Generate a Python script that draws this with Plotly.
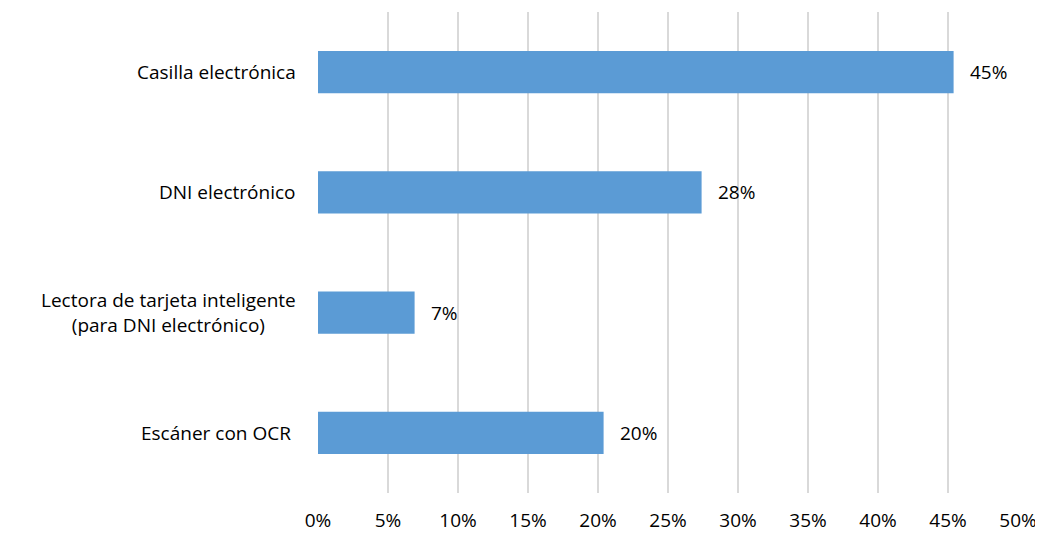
import plotly.graph_objects as go

categories = ["Casilla electrónica", "DNI electrónico",
              "Lectora de tarjeta inteligente<br>(para DNI electrónico)", "Escáner con OCR "]
values = [45.4, 27.4, 6.9, 20.4]
value_labels = ["45%", "28%", "7%", "20%"]
tick_vals = [0, 5, 10, 15, 20, 25, 30, 35, 40, 45, 50]
tick_text = ["0%", "5%", "10%", "15%", "20%", "25%", "30%", "35%", "40%", "45%", "50%"]

FONT = "Open Sans"
FS = 19

fig = go.Figure()
fig.add_trace(go.Bar(
    y=categories, x=values, orientation="h",
    marker=dict(color="#5b9bd5", line=dict(width=0)),
    width=0.35,
    hoverinfo="skip",
))

for c, v, t in zip(categories, values, value_labels):
    fig.add_annotation(x=v, y=c, text=t, showarrow=False, xanchor="left",
                       xshift=14, font=dict(family=FONT, size=FS, color="#000000"))
    # category labels, centred multi-line like the original
    fig.add_annotation(x=0, xref="paper", y=c, yref="y", text=c, showarrow=False,
                       xanchor="right", align="center", xshift=-20,
                       font=dict(family=FONT, size=FS, color="#000000"))

# page body has an 8px default margin, so the figure is 8px smaller and offset
fig.update_layout(
    width=1035, height=525,
    margin=dict(l=310, r=25, t=4, b=40),
    plot_bgcolor="white", paper_bgcolor="white",
    showlegend=False,
    font=dict(family=FONT, size=FS, color="#000000"),
    xaxis=dict(range=[0, 50], tickvals=tick_vals, ticktext=tick_text,
               showgrid=True, gridcolor="#d9d9d9", gridwidth=2,
               zeroline=False, showline=False, ticks="", ticklabelstandoff=14,
               automargin=False, fixedrange=True),
    yaxis=dict(categoryorder="array", categoryarray=categories[::-1],
               range=[-0.5, 3.5], showgrid=False, zeroline=False, showline=False,
               ticks="", showticklabels=False, automargin=False, fixedrange=True),
)

fig.write_html("out.html")
